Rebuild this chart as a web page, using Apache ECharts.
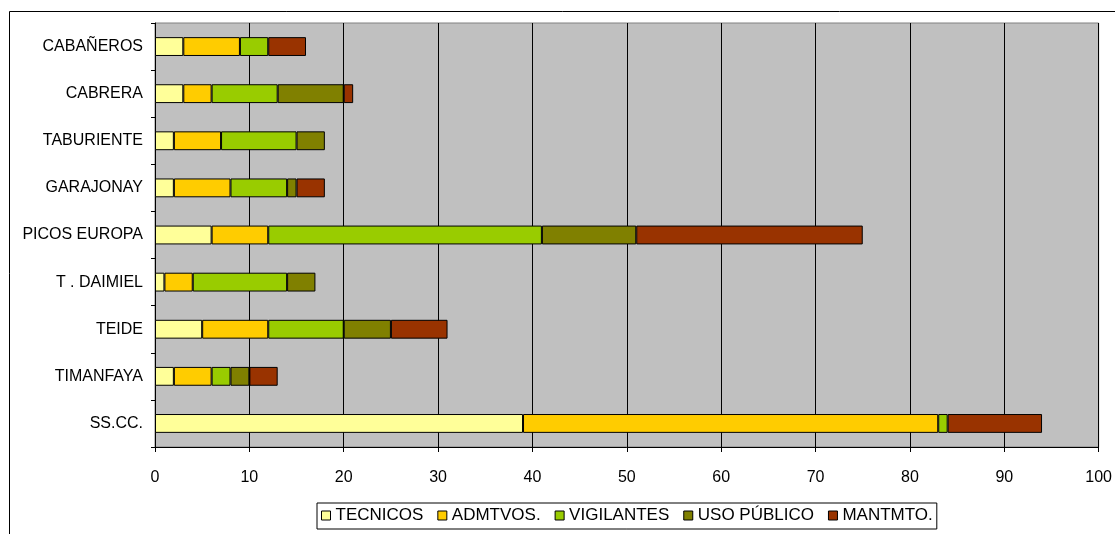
<!DOCTYPE html>
<html>
<head>
<meta charset="utf-8">
<script src="https://cdn.jsdelivr.net/npm/echarts@6/dist/echarts.min.js"></script>
<style>
html,body{margin:0;padding:0;background:#fff;}
#c{width:1115px;height:534px;}
</style>
</head>
<body>
<div id="c"></div>
<script>
var categories = ['CABAÑEROS','CABRERA','TABURIENTE','GARAJONAY','PICOS EUROPA','T . DAIMIEL','TEIDE','TIMANFAYA','SS.CC.'];
var seriesNames = ['TECNICOS','ADMTVOS.','VIGILANTES','USO PÚBLICO','MANTMTO.'];
var tecnicos   = [3, 3, 2, 2, 6, 1, 5, 2, 39];
var admtvos    = [6, 3, 5, 6, 6, 3, 7, 4, 44];
var vigilantes = [3, 7, 8, 6, 29, 10, 8, 2, 1];
var usoPublico = [0, 7, 3, 1, 10, 3, 5, 2, 0];
var mantmto    = [4, 1, 0, 3, 24, 0, 6, 3, 10];
var xTicks = {min: 0, max: 100, interval: 10};

var colors = ['#FFFF99','#FFCC00','#99CC00','#808000','#993300'];
var values = [tecnicos, admtvos, vigilantes, usoPublico, mantmto];
var FONT = '"Liberation Sans", Arial, sans-serif';

var chart = echarts.init(document.getElementById('c'), null, {renderer:'canvas'});
chart.setOption({
  animation: false,
  backgroundColor: '#ffffff',
  graphic: [{
    type: 'polyline',
    shape: {points: [[9.5, 540], [9.5, 11.5], [1120, 11.5]]},
    style: {stroke: '#000', lineWidth: 1, fill: null},
    silent: true
  }],
  grid: {
    left: 155, top: 23, right: 15, bottom: 87,
    show: true, backgroundColor: '#c0c0c0', borderColor: '#808080', borderWidth: 1,
    containLabel: false
  },
  legend: {
    left: 317, top: 503,
    data: seriesNames,
    orient: 'horizontal',
    backgroundColor: '#ffffff',
    borderColor: '#000000', borderWidth: 1,
    padding: [4, 4, 5, 4],
    itemWidth: 9, itemHeight: 9, itemGap: 14,
    icon: 'rect',
    itemStyle: {borderColor: '#000', borderWidth: 1},
    textStyle: {fontFamily: FONT, fontSize: 17, color: '#000'},
    selectedMode: false
  },
  xAxis: {
    type: 'value', min: xTicks.min, max: xTicks.max, interval: xTicks.interval,
    axisLine: {show: true, lineStyle: {color: '#000', width: 1}},
    axisTick: {show: true, length: 5, lineStyle: {color: '#000'}},
    splitLine: {show: true, lineStyle: {color: '#000', width: 1}},
    axisLabel: {fontFamily: FONT, fontSize: 16, color: '#000', margin: 23}
  },
  yAxis: {
    type: 'category', data: categories, inverse: true,
    axisLine: {show: true, lineStyle: {color: '#000', width: 1}},
    axisTick: {show: true, length: 4, lineStyle: {color: '#000'}},
    axisLabel: {fontFamily: FONT, fontSize: 16, color: '#000', margin: 12}
  },
  series: seriesNames.map(function(name, i){
    return {
      name: name, type: 'bar', stack: 'total',
      barWidth: '40%',
      itemStyle: {color: colors[i], borderColor: '#000', borderWidth: 1},
      data: values[i].map(function(v){ return v === 0 ? '-' : v; })
    };
  })
});
</script>
</body>
</html>
